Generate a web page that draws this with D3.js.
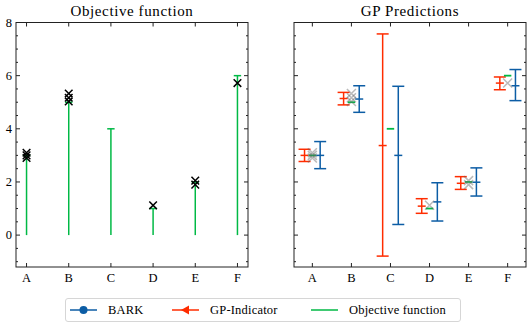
<!DOCTYPE html>
<html>
<head>
<meta charset="utf-8">
<script src="https://cdn.jsdelivr.net/npm/d3@7"></script>
<style>
  body { margin: 0; background: #fff; }
  svg { display: block; font-family: "Liberation Serif", "DejaVu Serif", serif; }
</style>
</head>
<body>
<div id="chart"></div>
<script>
// values
const categories = ["A", "B", "C", "D", "E", "F"];
const objective = [3, 5, 4, 1, 2, 6];
const observations = [[3.1, 3.0, 2.9], [5.33, 5.17, 5.03], [], [1.12], [2.05, 1.9], [5.72]];
const gpMean = [3.0, 5.14, 3.37, 1.09, 1.95, 5.72];
const gpLow = [2.77, 4.9, -0.79, 0.82, 1.72, 5.47];
const gpHigh = [3.23, 5.37, 7.57, 1.37, 2.2, 5.95];
const barkMean = [3.0, 5.12, 3.0, 1.25, 1.99, 5.62];
const barkLow = [2.5, 4.62, 0.4, 0.53, 1.47, 5.06];
const barkHigh = [3.52, 5.62, 5.6, 1.97, 2.53, 6.23];
const yTicks = [0, 2, 4, 6, 8];
const legendLabels = ["BARK", "GP-Indicator", "Objective function"];

const blue = "#0C5DA5", red = "#FF2C00", green = "#00B945";

const width = 531, height = 326;
const yTop = 22.5, yBottom = 267;

const svg = d3.select("#chart").append("svg")
    .attr("width", width)
    .attr("height", height);

const y = d3.scaleLinear().domain([-1.2, 8]).range([yBottom, yTop]);
const minorTicks = d3.range(-1, 8.01, 0.5).filter(v => !yTicks.includes(v));

function drawFrame(g, x, left, right, title, showLabels) {
    g.append("rect")
        .attr("x", left).attr("y", yTop)
        .attr("width", right - left).attr("height", yBottom - yTop)
        .attr("fill", "none").attr("stroke", "#222").attr("stroke-width", 1);

    // x ticks, inward, bottom and top
    categories.forEach((c, i) => {
        const px = x(i);
        g.append("line").attr("x1", px).attr("x2", px).attr("y1", yBottom).attr("y2", yBottom - 4)
            .attr("stroke", "#222");
        g.append("line").attr("x1", px).attr("x2", px).attr("y1", yTop).attr("y2", yTop + 4)
            .attr("stroke", "#222");
        g.append("text").attr("x", px).attr("y", yBottom + 15)
            .attr("text-anchor", "middle").attr("font-size", 12.5).text(c);
    });

    yTicks.forEach(v => {
        g.append("line").attr("x1", left).attr("x2", left + 4).attr("y1", y(v)).attr("y2", y(v)).attr("stroke", "#222");
        g.append("line").attr("x1", right).attr("x2", right - 4).attr("y1", y(v)).attr("y2", y(v)).attr("stroke", "#222");
        if (showLabels) {
            g.append("text").attr("x", left - 4).attr("y", y(v) + 4.3)
                .attr("text-anchor", "end").attr("font-size", 12.5).text(v);
        }
    });
    minorTicks.forEach(v => {
        g.append("line").attr("x1", left).attr("x2", left + 2).attr("y1", y(v)).attr("y2", y(v)).attr("stroke", "#222");
        g.append("line").attr("x1", right).attr("x2", right - 2).attr("y1", y(v)).attr("y2", y(v)).attr("stroke", "#222");
    });

    g.append("text").attr("x", (left + right) / 2).attr("y", 16)
        .attr("text-anchor", "middle").attr("font-size", 15)
        .attr("letter-spacing", 0.6).text(title);
}

function xMark(g, cx, cy, s, color, sw, op) {
    g.append("path")
        .attr("d", `M${cx - s},${cy - s}L${cx + s},${cy + s}M${cx - s},${cy + s}L${cx + s},${cy - s}`)
        .attr("stroke", color).attr("stroke-width", sw).attr("fill", "none")
        .attr("stroke-opacity", op);
}

function errorbar(g, px, lo, hi, mean, color) {
    g.append("line").attr("x1", px).attr("x2", px).attr("y1", y(lo)).attr("y2", y(hi))
        .attr("stroke", color).attr("stroke-width", 1.5);
    [lo, hi].forEach(v => {
        g.append("line").attr("x1", px - 6).attr("x2", px + 6).attr("y1", y(v)).attr("y2", y(v))
            .attr("stroke", color).attr("stroke-width", 1.5);
    });
    g.append("line").attr("x1", px - 4).attr("x2", px + 4).attr("y1", y(mean)).attr("y2", y(mean))
        .attr("stroke", color).attr("stroke-width", 1.5);
}

// left panel
const x1 = d3.scaleLinear().domain([-0.25, 5.25]).range([16, 248]);
const g1 = svg.append("g");
drawFrame(g1, x1, 16, 248, "Objective function", true);

objective.forEach((v, i) => {
    g1.append("line").attr("x1", x1(i)).attr("x2", x1(i)).attr("y1", y(0)).attr("y2", y(v))
        .attr("stroke", green).attr("stroke-width", 1.5);
    g1.append("line").attr("x1", x1(i) - 3.7).attr("x2", x1(i) + 3.7).attr("y1", y(v)).attr("y2", y(v))
        .attr("stroke", green).attr("stroke-width", 1.5);
});
observations.forEach((obs, i) => {
    obs.forEach(v => xMark(g1, x1(i), y(v), 3.8, "#000", 1.5, 1));
});

// right panel
const x2 = d3.scaleLinear().domain([-0.47, 5.47]).range([294, 526]);
const g2 = svg.append("g");
drawFrame(g2, x2, 294, 526, "GP Predictions", false);

categories.forEach((c, i) => {
    errorbar(g2, x2(i - 0.2), gpLow[i], gpHigh[i], gpMean[i], red);
    errorbar(g2, x2(i + 0.2), barkLow[i], barkHigh[i], barkMean[i], blue);
    g2.append("line").attr("x1", x2(i) - 3.7).attr("x2", x2(i) + 3.7)
        .attr("y1", y(objective[i])).attr("y2", y(objective[i]))
        .attr("stroke", green).attr("stroke-width", 1.8);
    observations[i].forEach(v => xMark(g2, x2(i), y(v), 4.5, "#666", 1.5, 0.45));
});

// legend
const lg = svg.append("g");
lg.append("rect").attr("x", 65.5).attr("y", 298.5).attr("width", 395).attr("height", 23)
    .attr("rx", 2.5).attr("fill", "#fff").attr("stroke", "#d6d6d6");
const legendX = [70, 172, 311];
const legendColors = [blue, red, green];
legendLabels.forEach((lab, i) => {
    const lx = legendX[i], ly = 310;
    lg.append("line").attr("x1", lx).attr("x2", lx + 27).attr("y1", ly).attr("y2", ly)
        .attr("stroke", legendColors[i]).attr("stroke-width", 1.5);
    if (i === 0) {
        lg.append("circle").attr("cx", lx + 13.5).attr("cy", ly).attr("r", 4).attr("fill", blue);
    } else if (i === 1) {
        lg.append("path")
            .attr("d", `M${lx + 9},${ly}L${lx + 17},${ly - 4.5}L${lx + 17},${ly + 4.5}Z`)
            .attr("fill", red);
    }
    lg.append("text").attr("x", lx + 38).attr("y", ly + 4.3).attr("font-size", 12.5)
        .attr("letter-spacing", 0.2).text(lab);
});
</script>
</body>
</html>
